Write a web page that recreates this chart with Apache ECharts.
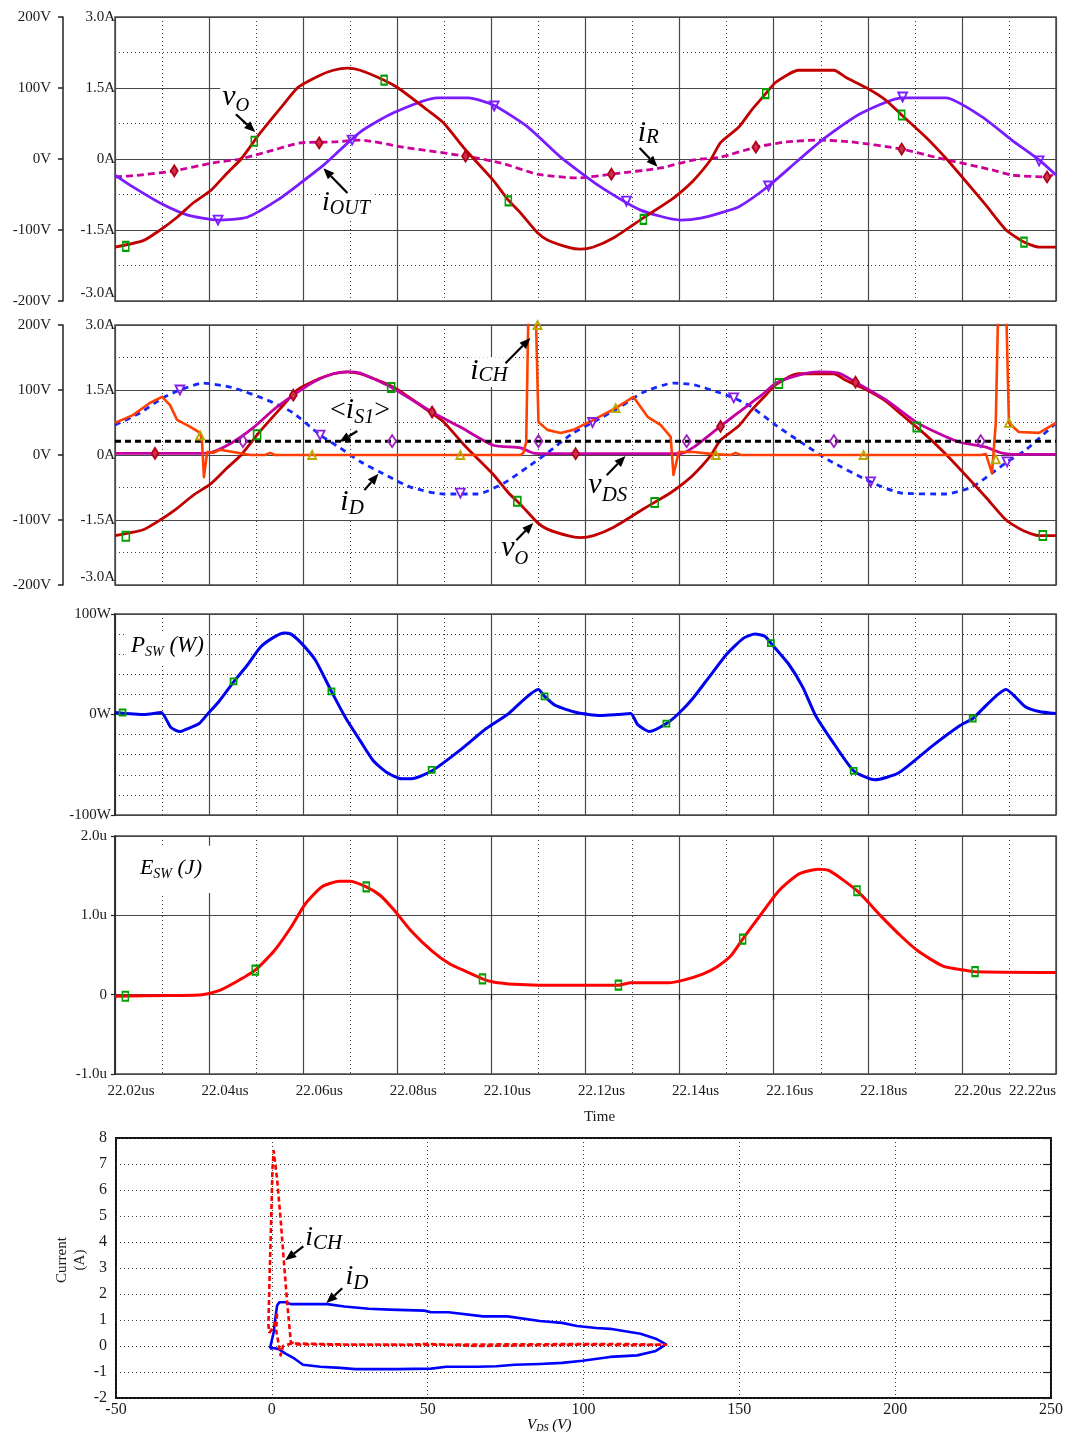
<!DOCTYPE html>
<html>
<head>
<meta charset="utf-8">
<script src="https://cdn.jsdelivr.net/npm/echarts@6/dist/echarts.min.js"></script>
<style>
  html, body { margin: 0; padding: 0; background: #fff; }
  #c { width: 1078px; height: 1436px; }
</style>
</head>
<body>
<div id="c"></div>
<script>
// Time base of the transient panels is in ns (labelled in us).
const T_MIN = 22020, T_MAX = 22220, T_STEP = 20;

// ---------- Panel 1: output voltage (V), output current (A), resistor current (A)
const vO = [[22020.0,-124],[22026.0,-115],[22029.6,-100],[22033.2,-82],[22036.6,-62],[22040.4,-44],[22043.8,-20],[22046.8,0],[22050.9,37],[22055.7,76],[22058.9,101],[22063.6,118],[22066.4,125],[22069.4,128],[22072.1,125],[22077.2,111],[22080.2,100],[22086.4,69],[22089.8,51],[22094.5,13],[22100.4,-30],[22103.6,-58],[22106.2,-76],[22109.8,-104],[22111.9,-114],[22116.2,-124],[22118.9,-127],[22121.7,-124],[22126.0,-111],[22132.3,-83],[22138.1,-58],[22140.4,-46],[22143.0,-30],[22146.6,-1],[22148.7,23],[22152.6,45],[22155.3,69],[22158.3,92],[22160.4,108],[22165.3,125],[22172.8,125],[22175.3,115],[22179.8,100],[22183.8,83],[22187.2,62],[22192.3,31],[22196.6,1],[22200.9,-32],[22205.1,-65],[22209.4,-100],[22213.2,-117],[22216.4,-124],[22220.0,-124]];
const iOUT = [[22020.0,-0.34],[22023.8,-0.59],[22029.6,-0.93],[22035.3,-1.18],[22041.9,-1.29],[22048.1,-1.23],[22054.5,-0.87],[22059.4,-0.51],[22064.3,-0.13],[22072.1,0.57],[22079.1,0.97],[22088.5,1.29],[22095.1,1.29],[22100.4,1.14],[22107.7,0.68],[22114.7,0.04],[22123.2,-0.59],[22131.7,-1.08],[22140.2,-1.29],[22144.5,-1.25],[22148.7,-1.14],[22152.6,-1.01],[22158.9,-0.57],[22165.3,-0.02],[22171.1,0.46],[22178.7,0.97],[22187.2,1.29],[22196.6,1.29],[22204.3,0.89],[22210.6,0.40],[22216.4,-0.02],[22220.0,-0.34]];
const iR = [[22020.0,-0.38],[22025.3,-0.34],[22032.6,-0.25],[22040.9,-0.08],[22046.6,0],[22052.3,0.15],[22059.4,0.34],[22066.4,0.36],[22072.1,0.40],[22081.3,0.25],[22094.5,0.06],[22101.9,-0.08],[22109.8,-0.32],[22118.3,-0.40],[22125.5,-0.32],[22136.0,-0.19],[22143.0,-0.02],[22148.7,0.04],[22156.2,0.25],[22162.6,0.36],[22169.6,0.40],[22176.6,0.36],[22187.2,0.21],[22195.1,0.02],[22206.4,-0.23],[22210.6,-0.34],[22218.1,-0.38],[22220.0,-0.30]];
const vOMarks1 = [[22022.3,-123],[22049.6,25],[22077.2,111],[22103.6,-59],[22132.3,-85],[22158.3,92],[22187.2,62],[22213.2,-117]];
const iOUTMarks = [[22041.9,-1.29],[22070.4,0.40],[22100.6,1.12],[22128.7,-0.89],[22158.9,-0.57],[22187.4,1.31],[22216.4,-0.04]];
const iRMarks = [[22032.6,-0.25],[22063.4,0.34],[22094.5,0.06],[22125.5,-0.32],[22156.2,0.25],[22187.2,0.21],[22218.1,-0.38]];

// ---------- Panel 2: switch voltage (V), diode / channel / average switch current (A)
const vDS = [[22020.0,2.5],[22027.4,2.5],[22038.1,2.5],[22040.9,5],[22045.1,20],[22049.4,42],[22053.6,69],[22057.9,92],[22062.1,112],[22066.4,125],[22069.4,128],[22072.1,126],[22078.5,105],[22087.4,66],[22093.4,43],[22100.4,15],[22106.2,11],[22108.9,3],[22114.7,2],[22127.4,2],[22140.2,2],[22143.0,12],[22148.3,42],[22152.6,66],[22157.4,92],[22160.6,111],[22165.3,123],[22169.6,128],[22173.8,126],[22177.4,112],[22183.8,85],[22190.2,51],[22194.5,35],[22199.4,20],[22205.1,12],[22208.5,3],[22212.1,1],[22220.0,1]];
const iD = [[22020.0,0.69],[22025.3,0.97],[22030.2,1.32],[22033.8,1.50],[22038.7,1.66],[22045.1,1.55],[22052.3,1.27],[22057.9,0.97],[22063.6,0.46],[22067.9,0.16],[22072.1,-0.15],[22076.4,-0.40],[22082.8,-0.74],[22089.8,-0.90],[22097.0,-0.90],[22102.6,-0.65],[22107.7,-0.28],[22111.9,0.05],[22117.4,0.51],[22121.7,0.76],[22127.4,1.11],[22132.3,1.45],[22138.7,1.66],[22143.0,1.62],[22148.7,1.43],[22151.5,1.32],[22155.3,1.11],[22160.4,0.69],[22166.0,0.28],[22171.7,-0.12],[22180.6,-0.62],[22187.2,-0.88],[22196.6,-0.90],[22202.1,-0.74],[22206.4,-0.42],[22209.6,-0.16],[22213.6,0.12],[22219.1,0.65],[22220.0,0.74]];
const iCH = [[22020.0,0.74],[22023.8,0.92],[22027.4,1.20],[22030.0,1.34],[22031.7,1.15],[22033.2,0.81],[22036.0,0.65],[22038.1,0.51],[22038.5,0.30],[22038.9,-0.51],[22039.6,0.07],[22040.9,0.05],[22042.3,0.12],[22045.1,0.07],[22048.7,0],[22051.9,0],[22053.0,0.05],[22054.0,0],[22106.2,0],[22106.8,0.05],[22107.4,0.30],[22108.5,7.5],[22110.0,0.76],[22111.9,0.58],[22114.7,0.51],[22117.4,0.58],[22121.7,0.81],[22126.4,1.08],[22130.2,1.34],[22133.2,0.88],[22136.0,0.69],[22138.1,0.42],[22138.7,-0.46],[22139.8,0.07],[22143.0,0.07],[22147.2,0.02],[22150.9,0],[22151.9,0.05],[22153.0,0],[22204.0,0],[22205.1,0.02],[22206.4,-0.42],[22207.2,0.74],[22208.5,7.5],[22210.0,0.74],[22212.1,0.53],[22216.4,0.51],[22220.0,0.74]];
const iS1avg = [[22020.0,0.32],[22220.0,0.32]];
const vOMarks2 = [[22022.3,-125],[22050.2,31],[22078.7,104],[22105.5,-71],[22134.7,-73],[22161.1,110],[22190.4,43],[22217.2,-124]];
const vDSMarks = [[22028.5,2.5],[22057.9,92],[22087.4,66],[22117.9,2],[22148.7,44],[22177.4,112]];
const iS1Marks = [[22047.2,0.32],[22078.9,0.32],[22110.0,0.32],[22141.5,0.32],[22172.8,0.32],[22204.0,0.32]];
const iDMarks = [[22033.8,1.50],[22063.6,0.46],[22093.4,-0.88],[22121.5,0.75],[22151.5,1.32],[22180.6,-0.62],[22209.6,-0.16]];
const iCHMarks = [[22038.1,0.45],[22061.9,0],[22093.4,0],[22109.8,3.0],[22126.4,1.08],[22147.7,0],[22179.1,0],[22207.2,-0.1],[22210.0,0.74]];

// ---------- Panel 3: switching power (W)
const pSW = [[22020.0,2],[22026.2,0],[22029.8,2],[22031.9,-13],[22033.8,-17],[22035.5,-14],[22037.9,-9],[22039.6,0],[22042.1,13],[22045.3,33],[22048.1,49],[22050.9,67],[22053.8,77],[22056.0,81],[22057.4,80],[22059.6,71],[22062.6,54],[22066.0,23],[22069.1,-4],[22072.1,-26],[22074.9,-46],[22077.9,-58],[22080.9,-64],[22083.0,-64],[22087.4,-56],[22093.2,-36],[22098.9,-14],[22103.4,0],[22110.0,25],[22111.3,18],[22113.6,9],[22118.1,2],[22123.2,-1],[22126.8,0],[22129.6,1],[22131.1,-10],[22133.6,-17],[22137.2,-9],[22139.8,1],[22142.8,16],[22146.4,38],[22150.0,60],[22153.6,76],[22156.0,80],[22158.1,78],[22159.4,71],[22163.2,50],[22166.2,27],[22168.9,-1],[22172.8,-29],[22177.0,-56],[22181.5,-65],[22186.6,-58],[22193.8,-31],[22199.6,-11],[22202.3,-4],[22209.4,25],[22213.4,8],[22216.4,3],[22220.0,1]];
const pSWMarks = [[22021.6,2],[22045.2,33],[22066.0,23],[22087.3,-55],[22111.3,18],[22137.2,-9],[22159.4,71],[22177.0,-56],[22202.3,-4]];

// ---------- Panel 4: switching energy (uJ)
const eSW = [[22020.0,-0.02],[22031.9,-0.01],[22038.5,0],[22042.1,0.05],[22045.1,0.14],[22049.8,0.31],[22053.8,0.55],[22057.4,0.85],[22060.4,1.14],[22064.0,1.36],[22067.7,1.43],[22069.8,1.43],[22073.4,1.36],[22076.4,1.25],[22079.4,1.06],[22083.0,0.80],[22087.4,0.55],[22091.1,0.39],[22094.7,0.29],[22098.1,0.20],[22100.4,0.16],[22104.9,0.13],[22110.0,0.12],[22127.0,0.12],[22129.6,0.15],[22137.7,0.15],[22140.6,0.18],[22144.9,0.26],[22147.9,0.35],[22150.9,0.49],[22153.4,0.70],[22157.4,1.02],[22161.1,1.31],[22165.3,1.52],[22169.4,1.58],[22171.9,1.56],[22177.7,1.31],[22182.8,0.99],[22187.2,0.73],[22190.9,0.54],[22196.0,0.36],[22200.4,0.31],[22202.8,0.29],[22220.0,0.28]];
const eSWMarks = [[22022.2,-0.02],[22049.8,0.31],[22073.4,1.36],[22098.1,0.20],[22127.0,0.12],[22153.4,0.70],[22177.7,1.31],[22202.8,0.29]];

// ---------- Panel 5: switching trajectory, current (A) versus V_DS (V)
const iDvsVDS = [[-0.6,-0.10],[0.6,0.54],[1.1,1.05],[1.7,1.56],[2.4,1.68],[4.4,1.68],[6.1,1.61],[17.8,1.61],[23.3,1.52],[31.1,1.43],[37.8,1.40],[48.9,1.36],[51.1,1.30],[56.7,1.30],[67.8,1.14],[75.6,1.14],[86.0,0.96],[93.1,0.89],[97.9,0.77],[104.1,0.69],[108.5,0.66],[118.3,0.47],[123.2,0.28],[126.5,0.06],[123.2,-0.19],[117.2,-0.36],[108.5,-0.42],[99.7,-0.57],[93.1,-0.65],[86.0,-0.69],[78.0,-0.72],[72.0,-0.78],[66.0,-0.80],[56.0,-0.80],[51.1,-0.87],[40.0,-0.89],[26.7,-0.89],[22.0,-0.84],[15.6,-0.80],[10.0,-0.72],[7.2,-0.48],[4.4,-0.29],[2.2,-0.12],[0.6,-0.08],[-0.6,-0.10]];
const iCHvsVDS = [[-0.8,0.50],[0.3,0.70],[1.1,0.90],[1.7,1.30],[1.4,0.60],[2.0,0.20],[2.8,-0.36],[3.6,0.00],[6.5,0.10],[23,0.06],[43,0.05],[50,0.08],[66,0.00],[86,0.03],[100,0.05],[115,0.03],[126.5,0.05],[110,0.08],[90,0.07],[70,0.06],[45,0.04],[25,0.05],[8,0.06],[6.1,0.15],[5.0,1.56],[3.9,3.20],[2.8,4.90],[1.7,6.40],[0.6,7.50],[0.2,6.80],[-0.2,4.90],[-0.8,2.30],[-1.1,0.80],[-0.8,0.50]];

// ---------- styling ----------
const FONT = 'Liberation Serif';
const TICK_COLOR = '#1a1a1a';
const MAJOR = { color: '#474747', width: 1.2 };
const DOTTED = { color: '#3a3a3a', width: 1, type: [1, 3] };
const labelFont = { fontFamily: FONT, fontSize: 15, color: TICK_COLOR };

const chart = echarts.init(document.getElementById('c'), null, { renderer: 'canvas' });

const frame = { show: true, borderColor: '#4a4a4a', borderWidth: 1.5, backgroundColor: 'transparent' };
const grids = [
  Object.assign({ left: 115, top: 17, width: 941, height: 284 }, frame),
  Object.assign({ left: 115, top: 325, width: 941, height: 260 }, frame),
  Object.assign({ left: 115, top: 614, width: 941, height: 201 }, frame),
  Object.assign({ left: 115, top: 836, width: 941, height: 238 }, frame),
  Object.assign({ left: 116, top: 1138, width: 935, height: 260 }, frame, { borderColor: '#111', borderWidth: 2 })
];

function timeAxis(gi, withLabels) {
  return {
    type: 'value', gridIndex: gi, min: T_MIN, max: T_MAX, interval: T_STEP,
    axisLine: { show: false },
    axisTick: { show: withLabels, length: 5, lineStyle: { color: '#222', width: 1.2 } },
    axisLabel: Object.assign({
      show: withLabels, margin: 10, padding: [0, 0, 0, 32], alignMaxLabel: 'right',
      formatter: v => (v / 1000).toFixed(2) + 'us'
    }, labelFont),
    name: withLabels ? 'Time' : '', nameLocation: 'middle', nameGap: 36,
    nameTextStyle: { fontFamily: FONT, fontSize: 15, color: TICK_COLOR, padding: [0, 0, 0, 28] },
    splitLine: { show: true, lineStyle: MAJOR },
    minorTick: { show: false, splitNumber: 2 },
    minorSplitLine: { show: true, lineStyle: DOTTED }
  };
}

function voltAxis(gi) {
  return {
    type: 'value', gridIndex: gi, min: -200, max: 200, interval: 100, position: 'left', offset: 52,
    axisLine: { show: true, lineStyle: { color: '#222', width: 1.5 } },
    axisTick: { show: true, length: 5, lineStyle: { color: '#222', width: 1.5 } },
    axisLabel: Object.assign({ margin: 12, formatter: v => v + 'V' }, labelFont),
    splitLine: { show: true, lineStyle: MAJOR },
    minorTick: { show: false, splitNumber: 2 },
    minorSplitLine: { show: true, lineStyle: DOTTED }
  };
}

function ampAxis(gi) {
  return {
    type: 'value', gridIndex: gi, min: -3, max: 3, interval: 1.5, position: 'left', offset: 0,
    axisLine: { show: false }, axisTick: { show: false },
    axisLabel: Object.assign({ margin: 0, verticalAlignMinLabel: 'bottom',
      formatter: v => (v === 0 ? '0A' : v.toFixed(1) + 'A') }, labelFont),
    splitLine: { show: false }
  };
}

const xAxes = [
  timeAxis(0, false), timeAxis(1, false), timeAxis(2, false), timeAxis(3, true),
  {
    type: 'value', gridIndex: 4, min: -50, max: 250, interval: 50,
    axisLine: { show: false }, axisTick: { show: false },
    axisLabel: { margin: 4, fontFamily: FONT, fontSize: 16, color: TICK_COLOR },
    splitLine: { show: true, lineStyle: DOTTED }
  }
];

const yAxes = [
  voltAxis(0),                       // 0
  ampAxis(0),                        // 1
  voltAxis(1),                       // 2
  ampAxis(1),                        // 3
  {                                  // 4 : power
    type: 'value', gridIndex: 2, min: -100, max: 100, interval: 100,
    axisLine: { show: true, lineStyle: { color: '#222', width: 1.5 } },
    axisTick: { show: true, length: 4, lineStyle: { color: '#222', width: 1.2 } },
    axisLabel: Object.assign({ margin: 4, formatter: v => v + 'W' }, labelFont),
    splitLine: { show: true, lineStyle: MAJOR },
    minorTick: { show: false, splitNumber: 5 },
    minorSplitLine: { show: true, lineStyle: DOTTED }
  },
  {                                  // 5 : energy
    type: 'value', gridIndex: 3, min: -1, max: 2, interval: 1,
    axisLine: { show: true, lineStyle: { color: '#222', width: 1.5 } },
    axisTick: { show: true, length: 4, lineStyle: { color: '#222', width: 1.2 } },
    axisLabel: Object.assign({ margin: 8, formatter: v => (v === 0 ? '0' : v.toFixed(1) + 'u') }, labelFont),
    splitLine: { show: true, lineStyle: MAJOR }
  },
  {                                  // 6 : trajectory current
    type: 'value', gridIndex: 4, min: -2, max: 8, interval: 1,
    axisLine: { show: false }, axisTick: { show: false },
    axisLabel: { margin: 9, fontFamily: FONT, fontSize: 16, color: TICK_COLOR },
    splitLine: { show: true, lineStyle: DOTTED }
  },
  {                                  // 7 : right-hand inner ticks of the trajectory plot
    type: 'value', gridIndex: 4, min: -2, max: 8, interval: 1, position: 'right',
    axisLine: { show: false }, axisLabel: { show: false }, splitLine: { show: false },
    axisTick: { show: true, inside: true, length: 8, lineStyle: { color: '#222', width: 1.2 } }
  }
];

// Waveform traces get a light spline; spikes and trajectory loops stay as straight segments.
function line(xi, yi, data, color, width, dash, z, smooth) {
  return {
    type: 'line', xAxisIndex: xi, yAxisIndex: yi, data, showSymbol: false, symbol: 'none',
    silent: true, clip: true, animation: false, z: z || 3,
    smooth: smooth || false,
    lineStyle: { color, width, type: dash || 'solid', join: 'round' }
  };
}
function marks(xi, yi, data, symbol, size, stroke, fill, rotate) {
  return {
    type: 'scatter', xAxisIndex: xi, yAxisIndex: yi, data, symbol, symbolSize: size,
    symbolRotate: rotate || 0, silent: true, animation: false, z: 6,
    itemStyle: { color: fill, borderColor: stroke, borderWidth: 1.8, opacity: 1 }
  };
}
const NOFILL = 'rgba(255,255,255,0)';
const SM = 0.2;
const C = {
  vO: '#C00000', iOUT: '#7A1CFF', iR: '#CC0099', vDS: '#C400A4', iCH: '#FF4000',
  iD: '#1428FF', avg: '#000000', p: '#0000F0', e: '#FF0000',
  green: '#00A000', violet: '#8A1CE8', ruby: '#B00018', olive: '#B8A800'
};

const series = [
  // panel 1
  line(0, 1, iR, C.iR, 2.8, [7, 4], 3, SM),
  line(0, 1, iOUT, C.iOUT, 2.8, null, 3, SM),
  line(0, 0, vO, C.vO, 2.8, null, 3, SM),
  marks(0, 1, iRMarks, 'diamond', [7, 11], C.ruby, '#d03050'),
  marks(0, 1, iOUTMarks, 'triangle', [9, 9], C.iOUT, NOFILL, 180),
  marks(0, 0, vOMarks1, 'rect', [6, 9], C.green, NOFILL),
  // panel 2
  line(1, 3, iD, C.iD, 2.8, [6, 5], 3, SM),
  line(1, 2, vO, C.vO, 2.8, null, 3, SM),
  line(1, 2, vDS, C.vDS, 2.8, null, 3, SM),
  line(1, 3, iS1avg, C.avg, 3, [6, 4]),
  line(1, 3, iCH, C.iCH, 2.6, null, 4),
  marks(1, 3, iDMarks, 'triangle', [9, 9], C.violet, NOFILL, 180),
  marks(1, 2, vOMarks2, 'rect', [7, 9], C.green, NOFILL),
  marks(1, 2, vDSMarks, 'diamond', [7, 11], C.ruby, '#d03050'),
  marks(1, 3, iS1Marks, 'diamond', [8, 12], '#A020C0', NOFILL),
  marks(1, 3, iCHMarks, 'triangle', [8, 8], C.olive, NOFILL),
  // panel 3
  line(2, 4, pSW, C.p, 3, null, 3, SM),
  marks(2, 4, pSWMarks, 'rect', [6, 6], C.green, NOFILL),
  // panel 4
  line(3, 5, eSW, C.e, 3, null, 3, SM),
  marks(3, 5, eSWMarks, 'rect', [6, 9], C.green, NOFILL),
  // panel 5
  line(4, 6, iDvsVDS, '#0000FF', 2.6),
  line(4, 6, iCHvsVDS, '#FF0000', 2.6, [5, 3], 4)
];

chart.setOption({
  animation: false,
  backgroundColor: '#ffffff',
  grid: grids,
  xAxis: xAxes,
  yAxis: yAxes,
  series
});

// ---------- annotations (text anchors and arrows in data coordinates) ----------
// parts: [text, fontSize, baselineShift, italic]
const notes = [
  { xi: 0, yi: 0, at: [22042.8, 73], parts: [['v', 30, 0], ['O', 19, 5]], arrow: [[22045.7, 63], [22049.8, 38]] },
  { xi: 0, yi: 0, at: [22064.0, -75], parts: [['i', 28, 0], ['OUT', 20, 3]], arrow: [[22069.4, -48], [22064.3, -13]] },
  { xi: 0, yi: 0, at: [22131.1, 22.5], parts: [['i', 30, 0], ['R', 21, 2]], arrow: [[22131.5, 15.5], [22135.3, -11]] },
  { xi: 1, yi: 2, at: [22065.7, 54], parts: [['<', 28, 0, false], ['i', 30, 0], ['S1', 20, 5], ['>', 28, 0, false]], arrow: [[22071.5, 37], [22067.7, 20]] },
  { xi: 1, yi: 2, at: [22067.9, -88], parts: [['i', 30, 0], ['D', 21, 3]], arrow: [[22073.0, -54], [22076.0, -29]] },
  { xi: 1, yi: 2, at: [22095.5, 114], parts: [['i', 30, 0], ['CH', 21, 2]], arrow: [[22103.0, 141], [22108.3, 180]] },
  { xi: 1, yi: 2, at: [22120.6, -61.5], parts: [['v', 30, 0], ['DS', 21, 8]], arrow: [[22124.5, -31], [22128.5, -1.5]] },
  { xi: 1, yi: 2, at: [22102.1, -158.5], parts: [['v', 30, 0], ['O', 19, 7]], arrow: [[22105.3, -131], [22108.9, -104.6]] },
  { xi: 2, yi: 4, at: [22023.4, 60], parts: [['P', 23, 0], ['SW', 14, 3], [' (W)', 23, 0]], pad: [4, 3, 5, 5] },
  { xi: 3, yi: 5, at: [22025.3, 1.5], parts: [['E', 22, 0], ['SW', 14, 3], [' (J)', 22, 0]], pad: [15, 17, 14, 13] },
  { xi: 4, yi: 6, at: [10.7, 3.79], parts: [['i', 28, 0], ['CH', 21, 3]], arrow: [[10.1, 3.83], [4.3, 3.30]] },
  { xi: 4, yi: 6, at: [23.6, 2.30], parts: [['i', 28, 0], ['D', 21, 4]], arrow: [[22.6, 2.22], [17.5, 1.65]] },
  { xi: 4, yi: 6, at: [81.9, -3.22], parts: [['V', 15, 0], ['DS', 10, 2], [' (V)', 15, 0]], noBox: true }
];

const measureCtx = document.createElement('canvas').getContext('2d');
function textWidth(text, size, italic) {
  measureCtx.font = (italic ? 'italic ' : '') + size + 'px "' + FONT + '"';
  return measureCtx.measureText(text).width;
}

function toPx(xi, yi, p) {
  return chart.convertToPixel({ xAxisIndex: xi, yAxisIndex: yi }, p);
}

function arrowEls(a, b) {
  const dx = b[0] - a[0], dy = b[1] - a[1], len = Math.hypot(dx, dy);
  const ux = dx / len, uy = dy / len, head = 11, half = 4.5;
  const bx = b[0] - ux * head, by = b[1] - uy * head;
  return [
    { type: 'line', z: 30, silent: true, shape: { x1: a[0], y1: a[1], x2: bx, y2: by },
      style: { stroke: '#000', lineWidth: 2.2 } },
    { type: 'polygon', z: 30, silent: true,
      shape: { points: [[b[0], b[1]], [bx - uy * half, by + ux * half], [bx + uy * half, by - ux * half]] },
      style: { fill: '#000' } }
  ];
}

const graphics = [];
notes.forEach(n => {
  const p = toPx(n.xi, n.yi, n.at);
  let x = p[0];
  const mainSize = n.parts[0][1];
  let bottom = p[1];
  const texts = [];
  n.parts.forEach(([t, size, dy, italic]) => {
    const it = italic !== false;
    const w = textWidth(t, size, it);
    texts.push({
      type: 'text', z: 30, silent: true, x, y: p[1] + dy - 0.34 * size,
      style: { text: t, fontFamily: FONT, fontSize: size, fontStyle: it ? 'italic' : 'normal',
        fill: '#000', align: 'left', verticalAlign: 'middle' }
    });
    bottom = Math.max(bottom, p[1] + dy + 0.1 * size);
    x += w;
  });
  if (!n.noBox) {
    const pad = n.pad || [2, 2, 2, 2];
    const top = p[1] - 0.72 * mainSize;
    graphics.push({ type: 'rect', z: 1, silent: true,
      shape: { x: p[0] - pad[0], y: top - pad[2], width: x - p[0] + pad[0] + pad[1], height: bottom - top + pad[2] + pad[3] },
      style: { fill: '#fff' } });
  }
  graphics.push(...texts);
  if (n.arrow) graphics.push(...arrowEls(toPx(n.xi, n.yi, n.arrow[0]), toPx(n.xi, n.yi, n.arrow[1])));
});

// Rotated title of the trajectory plot's current axis
const gridMidY = toPx(4, 6, [0, 3])[1] - 8;
graphics.push(
  { type: 'text', z: 30, silent: true, x: 62, y: gridMidY, rotation: Math.PI / 2,
    style: { text: 'Current', fontFamily: FONT, fontSize: 15, fill: TICK_COLOR, align: 'center', verticalAlign: 'middle' } },
  { type: 'text', z: 30, silent: true, x: 80, y: gridMidY, rotation: Math.PI / 2,
    style: { text: '(A)', fontFamily: FONT, fontSize: 15, fill: TICK_COLOR, align: 'center', verticalAlign: 'middle' } }
);

chart.setOption({ graphic: { elements: graphics } });
</script>
</body>
</html>
